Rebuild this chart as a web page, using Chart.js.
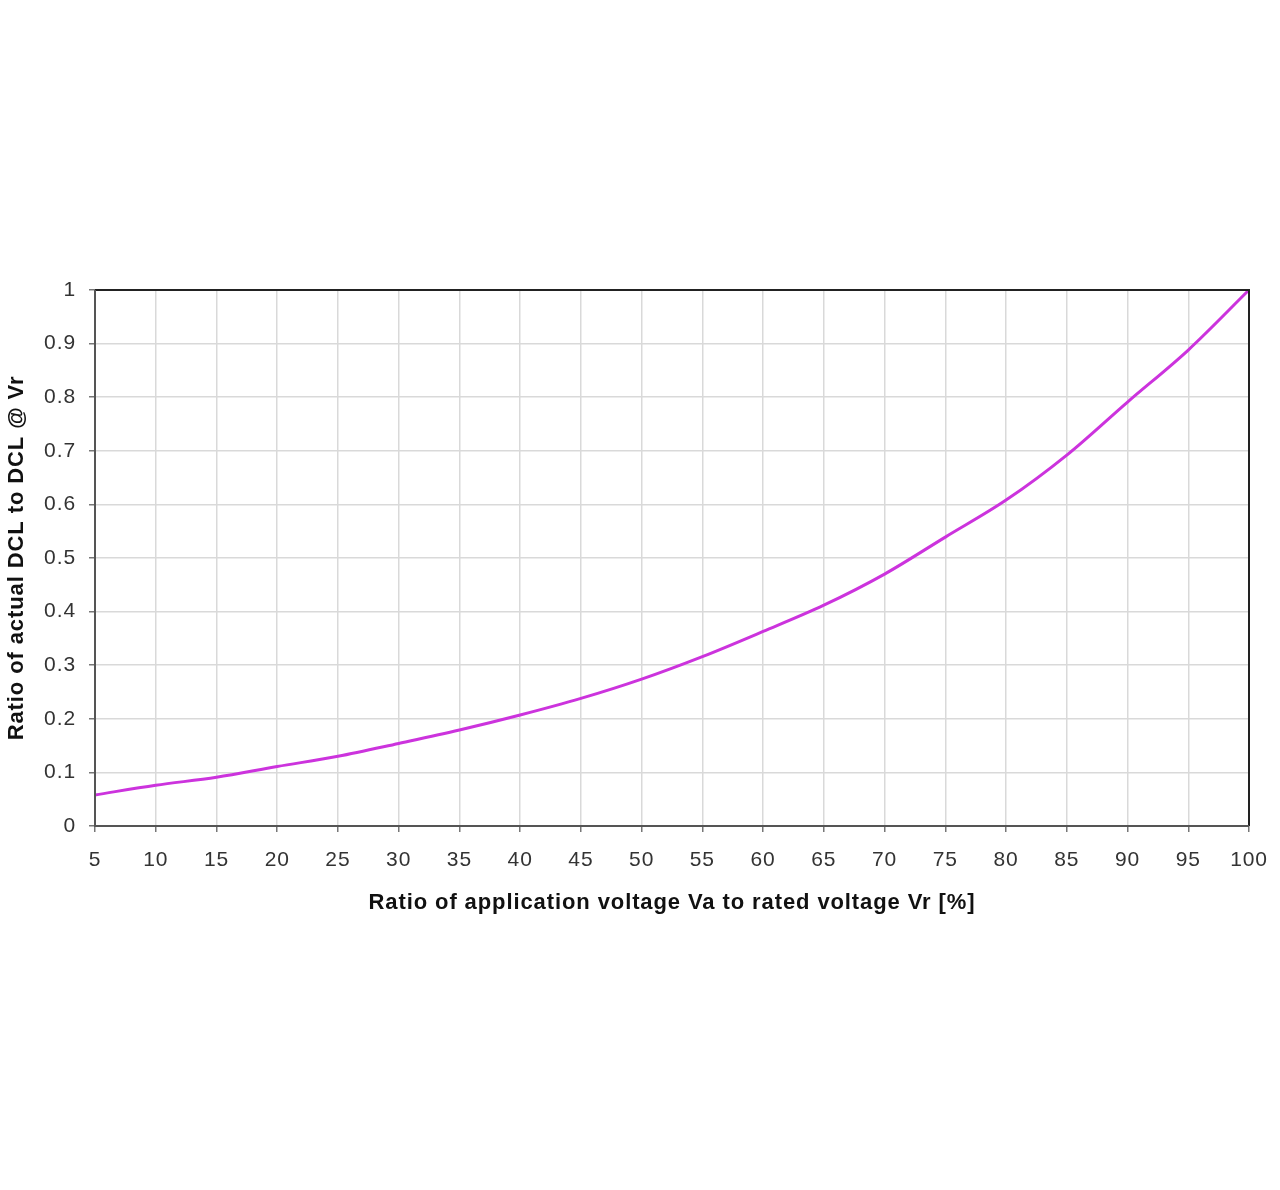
<!DOCTYPE html>
<html>
<head>
<meta charset="utf-8">
<script src="https://cdn.jsdelivr.net/npm/chart.js@4"></script>
<style>
  html, body { margin: 0; padding: 0; background: #fff; }
  #wrap { width: 1280px; height: 1190px; }
</style>
</head>
<body>
<div id="wrap"><canvas id="myChart" width="1280" height="1190"></canvas></div>
<script>
// voltage ratio Va/Vr in %
const voltageRatio = [5, 10, 15, 20, 25, 30, 35, 40, 45, 50, 55, 60, 65, 70, 75, 80, 85, 90, 95, 100];
// ratio of actual DCL to DCL @ Vr
const dclRatio = [0.058, 0.076, 0.091, 0.111, 0.130, 0.154, 0.179, 0.207, 0.238, 0.274,
                  0.316, 0.363, 0.412, 0.470, 0.539, 0.608, 0.692, 0.791, 0.888, 1.0];
const yTicks = [0, 0.1, 0.2, 0.3, 0.4, 0.5, 0.6, 0.7, 0.8, 0.9, 1];

const xTitle = "Ratio of application voltage Va to rated voltage Vr [%]";
const yTitle = "Ratio of actual DCL to DCL @ Vr";

// the original text is rendered a bit wider than plain Arial
const spacing = {
  id: "spacing",
  beforeDraw(chart) {
    chart.ctx.letterSpacing = "0.9px";
  }
};

// frame around the plot area (top/right edges too)
const frame = {
  id: "frame",
  afterDatasetsDraw(chart) {
    const { ctx, chartArea: a } = chart;
    ctx.save();
    ctx.strokeStyle = "#222";
    ctx.lineWidth = 2;
    ctx.beginPath();
    ctx.moveTo(a.left, a.top);
    ctx.lineTo(a.right, a.top);
    ctx.lineTo(a.right, a.bottom);
    ctx.stroke();
    ctx.strokeStyle = "#555";
    ctx.beginPath();
    ctx.moveTo(a.left, a.top);
    ctx.lineTo(a.left, a.bottom);
    ctx.lineTo(a.right, a.bottom);
    ctx.stroke();
    ctx.restore();
  }
};

const ctx = document.getElementById("myChart");
new Chart(ctx, {
  type: "line",
  data: {
    datasets: [
      {
        data: voltageRatio.map((v, i) => ({ x: v, y: dclRatio[i] })),
        borderColor: "#cc33dd",
        borderWidth: 3,
        pointRadius: 0,
        tension: 0.4,
        cubicInterpolationMode: "monotone",
        fill: false,
      },
    ],
  },
  options: {
    responsive: false,
    animation: false,
    layout: { padding: { left: 4, right: 31, top: 290, bottom: 274 } },
    plugins: { legend: { display: false }, tooltip: { enabled: false } },
    scales: {
      x: {
        type: "linear",
        min: 5,
        max: 100,
        afterFit: (s) => { s.height = 90; s.paddingLeft = 0; s.paddingRight = 0; },
        afterBuildTicks: (s) => { s.ticks = voltageRatio.map((v) => ({ value: v })); },
        ticks: {
          color: "#333",
          font: { family: "Liberation Sans, Arial", size: 21 },
          padding: 16,
          maxRotation: 0,
          autoSkip: false,
        },
        grid: { color: "#d9d9d9", lineWidth: 1.5, tickLength: 6, tickColor: "#777" },
        border: { display: false },
        title: {
          display: true,
          text: xTitle,
          color: "#111",
          font: { family: "Liberation Sans, Arial", size: 22, weight: "bold" },
          padding: 0,
        },
      },
      y: {
        min: 0,
        max: 1,
        afterFit: (s) => { s.width = 91; s.paddingTop = 0; s.paddingBottom = 0; },
        afterBuildTicks: (s) => { s.ticks = yTicks.map((v) => ({ value: v })); },
        ticks: {
          color: "#333",
          font: { family: "Liberation Sans, Arial", size: 21 },
          padding: 13,
          callback: (v) => String(Math.round(v * 10) / 10),
        },
        grid: { color: "#d9d9d9", lineWidth: 1.5, tickLength: 6, tickColor: "#777" },
        border: { display: false },
        title: {
          display: true,
          text: yTitle,
          color: "#111",
          font: { family: "Liberation Sans, Arial", size: 22, weight: "bold" },
          padding: 0,
        },
      },
    },
  },
  plugins: [spacing, frame],
});
</script>
</body>
</html>
